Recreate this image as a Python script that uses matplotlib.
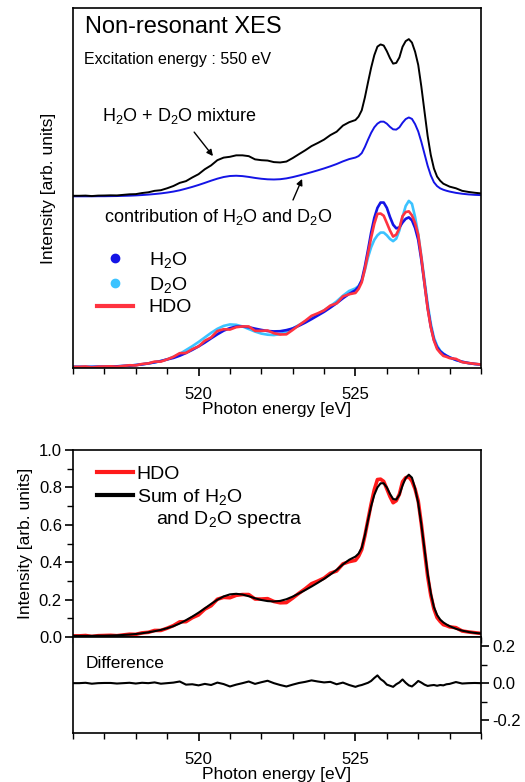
import numpy as np
import matplotlib
matplotlib.use("Agg")
import matplotlib.pyplot as plt
from matplotlib.lines import Line2D
from matplotlib.ticker import MultipleLocator, FixedLocator

plt.rcParams['font.family'] = ['Liberation Sans', 'DejaVu Sans']
plt.rcParams['mathtext.fontset'] = 'custom'
plt.rcParams['mathtext.rm'] = 'Liberation Sans'
plt.rcParams['mathtext.it'] = 'Liberation Sans:italic'
plt.rcParams['mathtext.bf'] = 'Liberation Sans:bold'

# ---------------- data ----------------
energy = [516.0, 516.2, 516.4, 516.6, 516.8, 517.0, 517.2, 517.4, 517.6, 517.8,
          518.0, 518.2, 518.4, 518.6, 518.8, 519.0, 519.2, 519.4, 519.6, 519.8,
          520.0, 520.2, 520.4, 520.6, 520.8, 521.0, 521.2, 521.4, 521.6, 521.8,
          522.0, 522.2, 522.4, 522.6, 522.8, 523.0, 523.2, 523.4, 523.6, 523.8,
          524.0, 524.2, 524.4, 524.6, 524.8, 525.0, 525.1, 525.2, 525.3, 525.4,
          525.5, 525.6, 525.7, 525.8, 525.9, 526.0, 526.1, 526.2, 526.3, 526.4,
          526.5, 526.6, 526.7, 526.8, 526.9, 527.0, 527.1, 527.2, 527.3, 527.4,
          527.5, 527.6, 527.7, 527.8, 527.9, 528.0, 528.2, 528.4, 528.6, 528.8,
          529.0]

h2o = [0.006, 0.006, 0.006, 0.006, 0.007, 0.007, 0.008, 0.009, 0.011, 0.013,
       0.016, 0.020, 0.025, 0.031, 0.038, 0.047, 0.055, 0.067, 0.082, 0.099,
       0.118, 0.139, 0.162, 0.184, 0.204, 0.218, 0.226, 0.227, 0.223, 0.215,
       0.208, 0.202, 0.200, 0.201, 0.207, 0.216, 0.231, 0.248, 0.267, 0.287,
       0.307, 0.330, 0.354, 0.381, 0.405, 0.425, 0.444, 0.480, 0.555, 0.645,
       0.740, 0.820, 0.875, 0.904, 0.904, 0.875, 0.825, 0.783, 0.763, 0.768,
       0.795, 0.815, 0.823, 0.807, 0.765, 0.700, 0.590, 0.460, 0.330, 0.227,
       0.154, 0.114, 0.091, 0.077, 0.067, 0.058, 0.044, 0.034, 0.027, 0.022,
       0.019]

d2o = [0.006, 0.006, 0.006, 0.006, 0.007, 0.007, 0.008, 0.009, 0.011, 0.013,
       0.016, 0.020, 0.025, 0.031, 0.038, 0.047, 0.061, 0.077, 0.098, 0.119,
       0.142, 0.167, 0.192, 0.214, 0.230, 0.238, 0.236, 0.227, 0.213, 0.199,
       0.188, 0.182, 0.180, 0.185, 0.197, 0.216, 0.235, 0.254, 0.273, 0.293,
       0.315, 0.338, 0.364, 0.395, 0.421, 0.435, 0.448, 0.476, 0.535, 0.605,
       0.660, 0.700, 0.725, 0.740, 0.740, 0.725, 0.705, 0.693, 0.707, 0.752,
       0.825, 0.885, 0.913, 0.897, 0.825, 0.730, 0.610, 0.480, 0.350, 0.243,
       0.166, 0.122, 0.095, 0.079, 0.067, 0.058, 0.044, 0.034, 0.027, 0.022,
       0.019]

difference = [0.000, 0.000, 0.002, -0.003, 0.000, 0.001, 0.001, -0.002, 0.000, 0.002,
              -0.002, 0.002, 0.000, 0.004, -0.003, 0.000, 0.003, 0.009, -0.008, -0.006,
              -0.012, -0.004, -0.010, 0.003, -0.005, -0.018, -0.008, 0.000, 0.009, -0.004,
              0.005, 0.013, 0.000, -0.010, -0.018, -0.008, 0.001, 0.007, 0.015, 0.009,
              0.004, 0.007, -0.006, 0.003, -0.010, -0.020, -0.014, -0.010, -0.004, 0.002,
              0.012, 0.028, 0.042, 0.022, 0.010, -0.008, -0.014, -0.020, -0.006, 0.004,
              0.020, 0.002, -0.012, -0.018, -0.004, 0.012, 0.003, -0.008, -0.015, -0.012,
              -0.010, -0.014, -0.010, -0.012, -0.006, -0.004, 0.006, -0.002, 0.000, 0.001,
              0.000]

upper_offset = 0.935   # vertical offset of the mixture curves in the top panel

e = np.array(energy)
sum_spec = (np.array(h2o) + np.array(d2o)) / 2.0
hdo = sum_spec + np.array(difference)
contribution = 0.5 * sum_spec
mixture = contribution + 0.5 * hdo

c_blue = '#1414e6'
c_cyan = '#3cc3ff'
c_red = '#ff3340'
c_red2 = '#ff1a1a'

# ---------------- figure ----------------
W, H = 525, 782
fig = plt.figure(figsize=(W / 100, H / 100), dpi=100)

def rect(l, t, r, b):
    return [l / W, 1 - b / H, (r - l) / W, (b - t) / H]

ax1 = fig.add_axes(rect(73, 8, 481, 368))
ax2 = fig.add_axes(rect(73, 450, 481, 637))
ax3 = fig.add_axes(rect(73, 637, 481, 733))

for ax in (ax1, ax2, ax3):
    for s in ax.spines.values():
        s.set_linewidth(1.2)
    ax.set_xlim(516, 529)
    ax.xaxis.set_major_locator(MultipleLocator(5))
    ax.xaxis.set_minor_locator(MultipleLocator(1))
    ax.tick_params(axis='x', which='major', direction='out', length=6, width=1.2,
                   labelsize=12, pad=8, top=False)
    ax.tick_params(axis='x', which='minor', direction='out', length=4, width=1.0, top=False)

# ---- top panel ----
ax1.plot(e, d2o, color=c_cyan, lw=1.9)
ax1.plot(e, h2o, color=c_blue, lw=1.9)
ax1.plot(e, hdo, color=c_red, lw=1.9)
ax1.plot(e, contribution + upper_offset, color=c_blue, lw=1.4)
ax1.plot(e, mixture + upper_offset, color='black', lw=1.4)
ax1.set_ylim(0, 1.967)
ax1.set_yticks([])
ax1.set_xlabel('Photon energy [eV]', fontsize=12.5, labelpad=0)
ax1.set_ylabel('Intensity [arb. units]', fontsize=12.5, labelpad=12)

ax1.text(0.029, 0.947, 'Non-resonant XES', transform=ax1.transAxes, fontsize=17,
         va='center', ha='left')
ax1.text(0.027, 0.857, 'Excitation energy : 550 eV', transform=ax1.transAxes,
         fontsize=11.5, va='center', ha='left')
ax1.text(516.92, 1.377, r'H$_2$O + D$_2$O mixture', fontsize=13, va='center', ha='left')
ax1.text(516.99, 0.825, r'contribution of H$_2$O and D$_2$O', fontsize=13,
         va='center', ha='left')
ax1.annotate('', xy=(520.46, 1.158), xytext=(519.86, 1.289),
             arrowprops=dict(arrowstyle='-|>', color='black', lw=1.0,
                             mutation_scale=9, shrinkA=0, shrinkB=0))
ax1.annotate('', xy=(523.30, 1.033), xytext=(523.01, 0.918),
             arrowprops=dict(arrowstyle='-|>', color='black', lw=1.0,
                             mutation_scale=9, shrinkA=0, shrinkB=0))

handles1 = [Line2D([], [], color=c_blue, marker='o', ls='none', markersize=6),
            Line2D([], [], color=c_cyan, marker='o', ls='none', markersize=6),
            Line2D([], [], color=c_red, lw=3)]
ax1.legend(handles1, [r'H$_2$O', r'D$_2$O', 'HDO'], loc='upper left',
           bbox_to_anchor=(0.0588, 0.327), frameon=False, fontsize=14,
           handlelength=1.85, handletextpad=0.8, labelspacing=0.22,
           borderpad=0, borderaxespad=0)

# ---- bottom main panel ----
ax2.plot(e, hdo, color=c_red2, lw=2.6)
ax2.plot(e, sum_spec, color='black', lw=1.5)
ax2.set_ylim(0, 1.0)
ax2.yaxis.set_major_locator(FixedLocator([0.0, 0.2, 0.4, 0.6, 0.8, 1.0]))
ax2.yaxis.set_minor_locator(FixedLocator([0.1, 0.3, 0.5, 0.7, 0.9]))
ax2.set_yticklabels(['0.0', '0.2', '0.4', '0.6', '0.8', '1.0'])
ax2.tick_params(axis='y', which='major', direction='out', length=6, width=1.2,
                labelsize=12, pad=2, right=False)
ax2.tick_params(axis='y', which='minor', direction='out', length=4, width=1.0, right=False)
ax2.tick_params(axis='x', labelbottom=False)
ax2.set_ylabel('Intensity [arb. units]', fontsize=12.5, labelpad=4)

handles2 = [Line2D([], [], color=c_red2, lw=3),
            Line2D([], [], color='black', lw=3)]
ax2.legend(handles2, ['HDO', r'Sum of H$_2$O'], loc='upper left',
           bbox_to_anchor=(0.0588, 0.918), frameon=False, fontsize=14,
           handlelength=1.85, handletextpad=0.2, labelspacing=0.2,
           borderpad=0, borderaxespad=0)
fig.text(156 / W, 1 - 520 / H, r'and D$_2$O spectra', fontsize=14, va='center', ha='left')

# ---- difference panel ----
ax3.plot(e, difference, color='black', lw=1.5)
ax3.set_ylim(-0.27, 0.25)
ax3.yaxis.tick_right()
ax3.yaxis.set_major_locator(FixedLocator([-0.2, 0.0, 0.2]))
ax3.yaxis.set_minor_locator(FixedLocator([-0.1, 0.1]))
ax3.set_yticklabels(['-0.2', '0.0', '0.2'])
ax3.tick_params(axis='y', which='major', direction='out', length=6, width=1.2,
                labelsize=12, pad=2, left=False)
ax3.tick_params(axis='y', which='minor', direction='out', length=4, width=1.0, left=False)
ax3.text(0.032, 0.72, 'Difference', transform=ax3.transAxes, fontsize=12.5,
         va='center', ha='left')
ax3.set_xlabel('Photon energy [eV]', fontsize=12.5, labelpad=0)

fig.savefig('out.png', dpi=100)
